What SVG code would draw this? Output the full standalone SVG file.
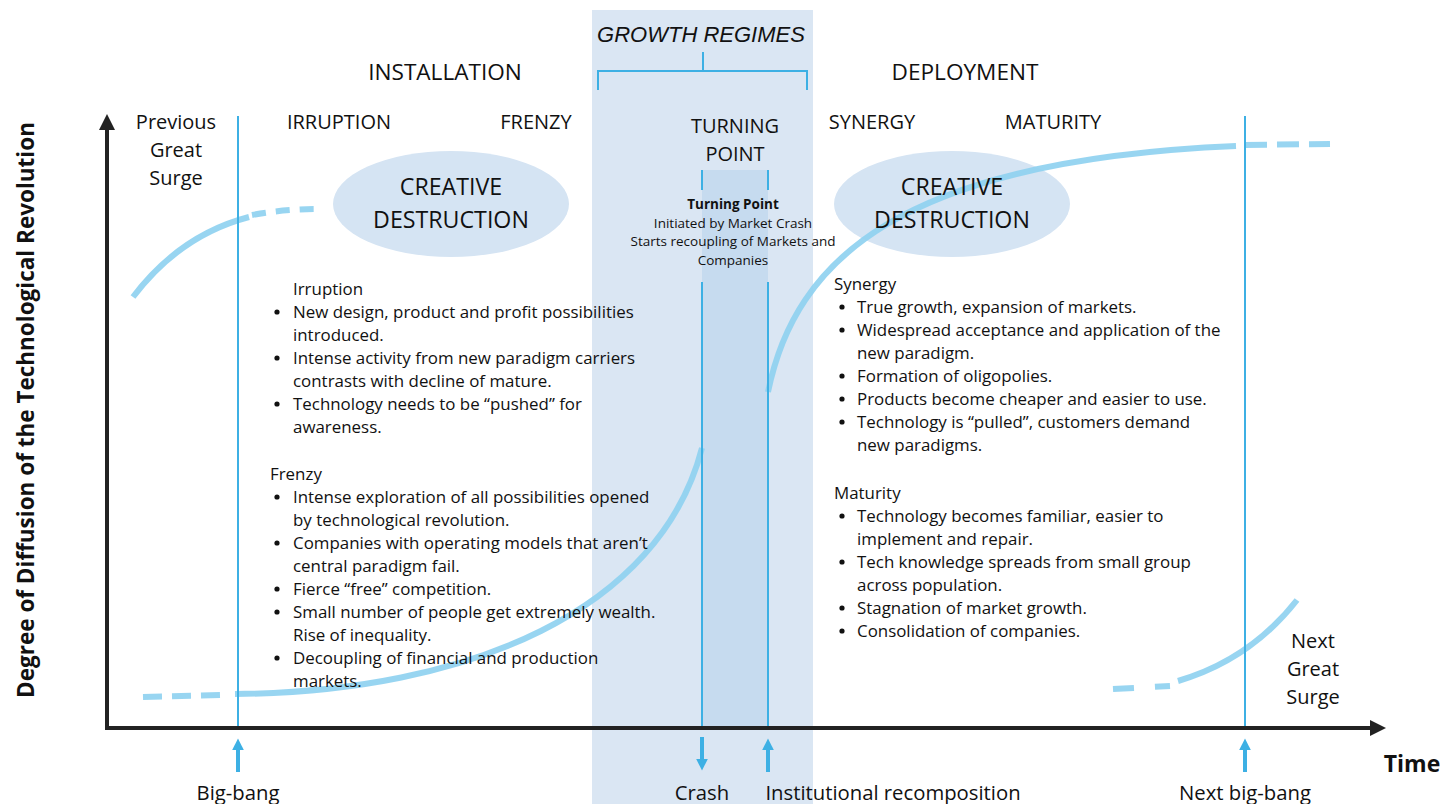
<svg xmlns="http://www.w3.org/2000/svg" width="1443" height="804" viewBox="0 0 1443 804">
  <style>
    text { font-family: "Open Sans", "Liberation Sans", Arial, sans-serif; fill: #111; }
    .phase { font-size: 20px; text-anchor: middle; }
    .head { font-size: 22.6px; text-anchor: middle; }
    .cd { font-size: 23.2px; text-anchor: middle; }
    .body { font-size: 16.9px; }
    .dot { fill: #111; }
    .small { font-size: 13.5px; text-anchor: middle; }
    .bottom { font-size: 20.3px; text-anchor: middle; }
    .mark { stroke: #3db0e4; stroke-width: 2; fill: none; }
    .curve { stroke: #8fd1f0; stroke-width: 6; fill: none; opacity: 0.92; }
    .axis { stroke: #222; stroke-width: 4; fill: none; }
    .event { stroke: #3db0e4; stroke-width: 4; fill: none; }
  </style>
  <defs>
    <marker id="axisHead" viewBox="0 0 10 10" refX="5" refY="5" markerWidth="4" markerHeight="4" orient="auto">
      <path d="M0,0 L10,5 L0,10 Z" fill="#222"/>
    </marker>
    <marker id="eventHead" viewBox="0 0 10 10" refX="2" refY="5" markerWidth="3" markerHeight="3" orient="auto">
      <path d="M0,0 L10,5 L0,10 Z" fill="#3db0e4"/>
    </marker>
  </defs>

  <rect width="1443" height="804" fill="#ffffff"/>

  <!-- growth regimes band -->
  <g id="growth-regimes">
    <rect x="592" y="10" width="221" height="794" fill="#dae6f3"/>
    <rect x="702" y="170" width="66" height="558" fill="#c6dbef"/>
    <text x="701" y="42" font-size="22" font-style="italic" text-anchor="middle" style="font-family:'Liberation Sans', Arial, sans-serif">GROWTH REGIMES</text>
    <path class="mark" d="M598,90 V71 H807 V90 M703,71 V52"/>
  </g>

  <!-- stage headings -->
  <g id="stages">
    <text class="head" x="445" y="80">INSTALLATION</text>
    <text class="head" x="965" y="80">DEPLOYMENT</text>
    <text class="phase" x="176" y="129">Previous</text>
    <text class="phase" x="176" y="157">Great</text>
    <text class="phase" x="176" y="185">Surge</text>
    <text class="phase" x="339" y="129">IRRUPTION</text>
    <text class="phase" x="536" y="129">FRENZY</text>
    <text class="phase" x="735" y="133">TURNING</text>
    <text class="phase" x="735" y="161">POINT</text>
    <text class="phase" x="872" y="129">SYNERGY</text>
    <text class="phase" x="1053" y="129">MATURITY</text>
    <text class="phase" x="1313" y="648">Next</text>
    <text class="phase" x="1313" y="676">Great</text>
    <text class="phase" x="1313" y="704">Surge</text>
  </g>

  <!-- creative destruction bubbles -->
  <g id="creative-destruction-left">
    <ellipse cx="451" cy="204" rx="118" ry="53" fill="#d5e4f3"/>
    <text class="cd" x="451" y="195">CREATIVE</text>
    <text class="cd" x="451" y="228">DESTRUCTION</text>
  </g>
  <g id="creative-destruction-right">
    <ellipse cx="952" cy="204" rx="118" ry="53" fill="#d5e4f3"/>
  </g>

  <!-- diffusion curves -->
  <g id="curves">
    <path class="curve" d="M133,297 Q180,235 249,217"/>
    <path class="curve" d="M252,215 Q285,209 318,209" stroke-dasharray="14 10"/>
    <path class="curve" d="M143,697 L225,695" stroke-dasharray="19 10"/>
    <path class="curve" d="M235,694 C470,692 660,610 702,448"/>
    <path class="curve" d="M768,392 C795,260 900,160 1236,146"/>
    <path class="curve" d="M1245,145 L1330,144" stroke-dasharray="22 10"/>
    <path class="curve" d="M1113,689 L1170,686" stroke-dasharray="21 21"/>
    <path class="curve" d="M1178,681 Q1250,660 1297,600"/>
  </g>

  <g id="creative-destruction-right-label">
    <text class="cd" x="952" y="195">CREATIVE</text>
    <text class="cd" x="952" y="228">DESTRUCTION</text>
  </g>

  <!-- event markers -->
  <g id="markers">
    <line class="mark" x1="238" y1="116" x2="238" y2="728"/>
    <line class="mark" x1="1245" y1="116" x2="1245" y2="728"/>
    <line class="mark" x1="702" y1="170" x2="702" y2="190"/>
    <line class="mark" x1="768" y1="170" x2="768" y2="190"/>
    <line class="mark" x1="702" y1="282" x2="702" y2="728"/>
    <line class="mark" x1="768" y1="282" x2="768" y2="728"/>
  </g>

  <!-- axes -->
  <g id="axes">
    <path class="axis" d="M107,728 V122" marker-end="url(#axisHead)"/>
    <path class="axis" d="M105,728 H1378" marker-end="url(#axisHead)"/>
    <text x="34" y="410" font-size="22.5" font-weight="bold" text-anchor="middle" transform="rotate(-90 34 410)">Degree of Diffusion of the Technological Revolution</text>
    <text x="1412" y="772" font-size="23" font-weight="bold" text-anchor="middle">Time</text>
  </g>

  <!-- turning point note -->
  <g id="turning-point-note">
    <text class="small" x="733" y="209" font-weight="bold">Turning Point</text>
    <text class="small" x="733" y="228">Initiated by Market Crash</text>
    <text class="small" x="733" y="246">Starts recoupling of Markets and</text>
    <text class="small" x="733" y="265">Companies</text>
  </g>

  <!-- installation notes -->
  <g id="irruption-notes">
    <text class="body" x="293" y="295">Irruption</text>
    <circle class="dot" cx="277" cy="312" r="2.6"/><text class="body" x="293" y="318">New design, product and profit possibilities</text>
    <text class="body" x="293" y="341">introduced.</text>
    <circle class="dot" cx="277" cy="358" r="2.6"/><text class="body" x="293" y="364">Intense activity from new paradigm carriers</text>
    <text class="body" x="293" y="387">contrasts with decline of mature.</text>
    <circle class="dot" cx="277" cy="404" r="2.6"/><text class="body" x="293" y="410">Technology needs to be “pushed” for</text>
    <text class="body" x="293" y="433">awareness.</text>
  </g>
  <g id="frenzy-notes">
    <text class="body" x="270" y="480">Frenzy</text>
    <circle class="dot" cx="277" cy="497" r="2.6"/><text class="body" x="293" y="503">Intense exploration of all possibilities opened</text>
    <text class="body" x="293" y="526">by technological revolution.</text>
    <circle class="dot" cx="277" cy="543" r="2.6"/><text class="body" x="293" y="549">Companies with operating models that aren’t</text>
    <text class="body" x="293" y="572">central paradigm fail.</text>
    <circle class="dot" cx="277" cy="589" r="2.6"/><text class="body" x="293" y="595">Fierce “free” competition.</text>
    <circle class="dot" cx="277" cy="612" r="2.6"/><text class="body" x="293" y="618">Small number of people get extremely wealth.</text>
    <text class="body" x="293" y="641">Rise of inequality.</text>
    <circle class="dot" cx="277" cy="658" r="2.6"/><text class="body" x="293" y="664">Decoupling of financial and production</text>
    <text class="body" x="293" y="687">markets.</text>
  </g>

  <!-- deployment notes -->
  <g id="synergy-notes">
    <text class="body" x="834" y="290">Synergy</text>
    <circle class="dot" cx="842" cy="307" r="2.6"/><text class="body" x="857" y="313">True growth, expansion of markets.</text>
    <circle class="dot" cx="842" cy="330" r="2.6"/><text class="body" x="857" y="336">Widespread acceptance and application of the</text>
    <text class="body" x="857" y="359">new paradigm.</text>
    <circle class="dot" cx="842" cy="376" r="2.6"/><text class="body" x="857" y="382">Formation of oligopolies.</text>
    <circle class="dot" cx="842" cy="399" r="2.6"/><text class="body" x="857" y="405">Products become cheaper and easier to use.</text>
    <circle class="dot" cx="842" cy="422" r="2.6"/><text class="body" x="857" y="428">Technology is “pulled”, customers demand</text>
    <text class="body" x="857" y="451">new paradigms.</text>
  </g>
  <g id="maturity-notes">
    <text class="body" x="834" y="499">Maturity</text>
    <circle class="dot" cx="842" cy="516" r="2.6"/><text class="body" x="857" y="522">Technology becomes familiar, easier to</text>
    <text class="body" x="857" y="545">implement and repair.</text>
    <circle class="dot" cx="842" cy="562" r="2.6"/><text class="body" x="857" y="568">Tech knowledge spreads from small group</text>
    <text class="body" x="857" y="591">across population.</text>
    <circle class="dot" cx="842" cy="608" r="2.6"/><text class="body" x="857" y="614">Stagnation of market growth.</text>
    <circle class="dot" cx="842" cy="631" r="2.6"/><text class="body" x="857" y="637">Consolidation of companies.</text>
  </g>

  <!-- events along the time axis -->
  <g id="event-arrows">
    <path class="event" d="M238,772 V748" marker-end="url(#eventHead)"/>
    <path class="event" d="M702,737 V761" marker-end="url(#eventHead)"/>
    <path class="event" d="M768,772 V748" marker-end="url(#eventHead)"/>
    <path class="event" d="M1245,772 V748" marker-end="url(#eventHead)"/>
  </g>
  <g id="event-labels">
    <text class="bottom" x="238" y="800">Big-bang</text>
    <text class="bottom" x="702" y="800">Crash</text>
    <text class="bottom" x="893" y="800">Institutional recomposition</text>
    <text class="bottom" x="1245" y="800">Next big-bang</text>
  </g>
</svg>
